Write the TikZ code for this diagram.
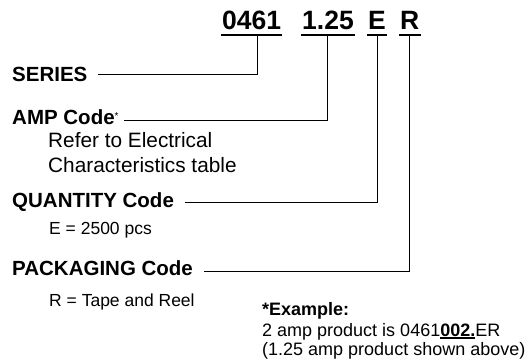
\documentclass[tikz,border=0pt]{standalone}
\usepackage{fontspec}
\setmainfont{Liberation Sans}
\usetikzlibrary{positioning}
\newcommand{\undl}[1]{\setbox0\hbox{#1}\rlap{\rule[-2.6pt]{\wd0}{1.3pt}}\box0}
\tikzset{
	lbl/.style={anchor=base west, inner sep=0pt, font=\fontsize{20.5}{24}\selectfont\bfseries},
	note/.style={anchor=base west, inner sep=0pt, font=\fontsize{20.8}{24}\selectfont},
	small/.style={anchor=base west, inner sep=0pt, font=\fontsize{17.5}{20}\selectfont},
	code/.style={anchor=base west, inner sep=0pt, font=\fontsize{26.5}{30}\selectfont\bfseries},
	lead/.style={line width=1pt},
	bar/.style={line width=2pt}
}

\begin{document}
\begin{tikzpicture}[x=1pt, y=-1pt]
		\useasboundingbox (0, 0) rectangle (532, 362);
		% part number
		\node[code] (cser) at (222, 29) {0461};
		\node[code] (camp) at (302, 29) {1.25};
		\node[code] (cqty) at (368, 29) {E};
		\node[code] (cpkg) at (400, 29) {R};
		\foreach \c in {cser, camp, cqty, cpkg}
			\draw[bar]([shift={(-1pt, -5.5pt)}]\c.base west)--([shift={(1pt, -5.5pt)}]\c.base east);
		% labels
		\node[lbl] (ser) at (12, 81) {SERIES};
		\node[lbl] (amp) at (12, 124) {AMP Code\raisebox{5pt}{\fontsize{10}{10}\selectfont\mdseries *}};
		\node[note] (ref1) at (48, 147) {Refer to Electrical};
		\node[note] (ref2) at (48, 172) {Characteristics table};
		\node[lbl] (qty) at (12, 207) {QUANTITY Code};
		\node[small] (qnote) at (49, 234) {E = 2500 pcs};
		\node[lbl] (pkg) at (12, 275) {PACKAGING Code};
		\node[small] (pnote) at (49, 306) {R = Tape and Reel};
		% leaders
		\draw[lead]([shift={(6pt, -6.5pt)}]cser.base)|-([shift={(10pt, 6.5pt)}]ser.base east);
		\draw[lead]([yshift=-6.5pt]camp.base)|-([shift={(5pt, 3.5pt)}]amp.base east);
		\draw[lead]([yshift=-6.5pt]cqty.base)|-([shift={(11pt, 4.5pt)}]qty.base east);
		\draw[lead]([yshift=-6.5pt]cpkg.base)|-([shift={(11pt, 3.5pt)}]pkg.base east);
		% example
		\node[small, font=\fontsize{18}{20}\selectfont\bfseries] (ex1) at (262, 315) {*Example:};
		\node[small, font=\fontsize{18}{20}\selectfont] (ex2) at (262, 336) {2 amp product is 0461\undl{\bfseries 002.}ER};
		\node[small, font=\fontsize{18}{20}\selectfont] (ex3) at (262, 355) {(1.25 amp product shown above)};
	\end{tikzpicture}
\end{document}
